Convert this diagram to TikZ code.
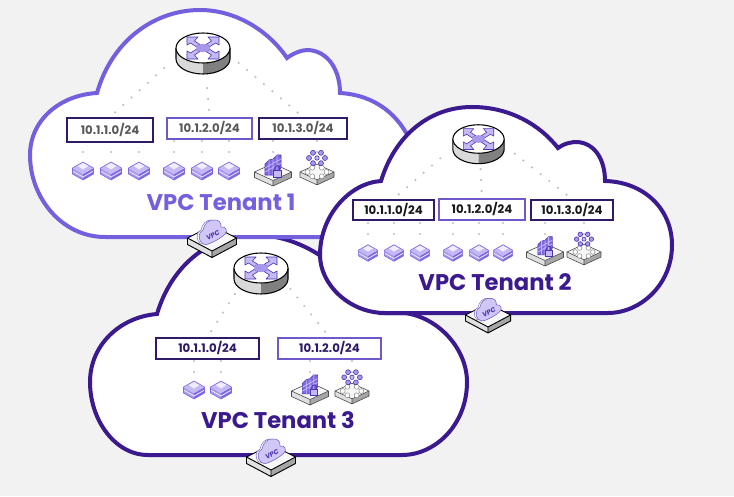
\documentclass[tikz,border=0pt]{standalone}
\usepackage{fontspec}
\setmainfont{Poppins}
\definecolor{bgc}{HTML}{F2F2F2}
\definecolor{lilac}{HTML}{7360DE}
\definecolor{deep}{HTML}{3A1A8E}
\definecolor{deepb}{HTML}{2E1A66}
\definecolor{lightb}{HTML}{6F58C9}
\definecolor{dotc}{HTML}{C0C0C0}
\definecolor{lav}{HTML}{C4B9F5}
\definecolor{lavd}{HTML}{7F68E2}
\definecolor{lavm}{HTML}{A798EC}
\definecolor{lavs}{HTML}{4C35B0}
\tikzset{
  cloudline/.style={fill=white,line width=3pt,line join=miter},
  netbox/.style={draw,fill=white,line width=1.5pt,inner sep=0pt,font=\fontsize{8.8}{10}\selectfont\bfseries,align=center},
  dotline/.style={draw=dotc,line width=1.8pt,line cap=round,dash pattern=on 0pt off 8.25pt},
  title/.style={font=\fontsize{17}{20}\selectfont\bfseries,inner sep=0pt},
  plat/.style={draw=black!70,line width=.45pt,line join=round},
  router/.pic={
    \fill[white!85!black] (-27,0) -- (-27,11) .. controls (-27,19) and (-15,26) .. (0,26) -- (0,0) -- cycle;
    \fill[gray] (27,0) -- (27,11) .. controls (27,19) and (15,26) .. (0,26) -- (0,0) -- cycle;
    \draw[black,line width=.8pt,fill=none] (-27,0) -- (-27,11) .. controls (-27,19) and (-15,26) .. (0,26) .. controls (15,26) and (27,19) .. (27,11) -- (27,0);
    \draw[black,line width=.8pt,fill=white] (-27,0) .. controls (-27,-8.3) and (-15,-15) .. (0,-15) .. controls (15,-15) and (27,-8.3) .. (27,0) .. controls (27,8.3) and (15,15) .. (0,15) .. controls (-15,15) and (-27,8.3) .. (-27,0) -- cycle;
    \foreach \sx/\sy in {1/1,-1/1,1/-1,-1/-1}{
      \draw[lavs,fill=lav,line width=.45pt,line join=round,xscale=\sx,yscale=\sy]
        (5,-11) -- (16,-11) -- (16,-3) -- (12.5,-5) -- (7,-1.5) -- (3,-3.5) -- (8.5,-7) -- cycle;
    }
    \fill[lavm] (0,0) ellipse[x radius=7,y radius=4];
  },
  server/.pic={
    \fill[lavm] (-10.5,-3) -- (0,3) -- (0,9) -- (-10.5,3) -- cycle;
    \fill[lavd] (10.5,-3) -- (0,3) -- (0,9) -- (10.5,3) -- cycle;
    \draw[white!70!lav,line width=.6pt] (-10.5,0) -- (0,6) -- (10.5,0);
    \fill[lav] (0,-9) -- (10.5,-3) -- (0,3) -- (-10.5,-3) -- cycle;
    \fill[white!75!lav] (0,-8) -- (5.5,-5) -- (0,-1.5) -- (-5.5,-5) -- cycle;
    \draw[lavd,line width=.45pt,line join=round] (0,-9) -- (10.5,-3) -- (10.5,3) -- (0,9) -- (-10.5,3) -- (-10.5,-3) -- cycle;
  },
  platform/.pic={
    \fill[white!88!black] (-18.5,0) -- (0,8.5) -- (0,14) -- (-18.5,5.5) -- cycle;
    \fill[gray!70] (18.5,0) -- (0,8.5) -- (0,14) -- (18.5,5.5) -- cycle;
    \draw[plat,fill=white!97!black] (0,-8.5) -- (18.5,0) -- (0,8.5) -- (-18.5,0) -- cycle;
    \draw[plat] (-18.5,0) -- (-18.5,5.5) -- (0,14) -- (18.5,5.5) -- (18.5,0) (0,8.5) -- (0,14);
  },
  firewall/.pic={
    \pic {platform};
    \draw[lavs,fill=lavd,line width=.45pt,line join=round] (-8,3) -- (-8,-8) -- (-4,-12) -- (0,-13) -- (4,-17) -- (8,-17) -- (8,-4) -- (0,3) -- cycle;
    \draw[lav,line width=.6pt] (-8,-4) -- (8,-13) (-8,0) -- (8,-9) (-4,-12) -- (-4,3) (0,-13) -- (0,3) (4,-17) -- (4,-2);
    \draw[lavs,line width=.7pt] (1.5,-2) .. controls (1.5,-8) and (7,-8) .. (7,-2);
    \draw[lavs,fill=lav,line width=.45pt] (0,-2) rectangle (8,5);
  },
  cluster/.pic={
    \pic[scale=.92] {platform};
    \foreach \ang in {0,60,...,300}{
      \draw[black!45,fill=white,line width=.4pt] ({9.5*cos(\ang)},{5*sin(\ang)}) circle[radius=2.5];
    }
    \foreach \ang in {0,60,...,300}{
      \draw[lavs,fill=lavm,line width=.45pt] ({8*cos(\ang)},{-14+6*sin(\ang)}) circle[radius=2.5];
    }
    \draw[lavs,fill=lav,line width=.45pt] (0,-14) circle[radius=2.2];
  },
  gateway/.pic={
    \fill[white!88!black] (-24.5,0) -- (0,13) -- (0,19.5) -- (-24.5,6.5) -- cycle;
    \fill[gray!70] (24.5,0) -- (0,13) -- (0,19.5) -- (24.5,6.5) -- cycle;
    \draw[black,line width=.7pt,fill=white!97!black,line join=round] (0,-12.5) -- (24.5,0) -- (0,13) -- (-24.5,0) -- cycle;
    \draw[black,line width=.7pt,line join=round] (-24.5,0) -- (-24.5,6.5) -- (0,19.5) -- (24.5,6.5) -- (24.5,0) (0,13) -- (0,19.5);
    \draw[lavs!70,fill=white,line width=.4pt] (-12,5) .. controls (-16,2) and (-16,-6) .. (-11,-8) .. controls (-10,-14) and (-5,-19) .. (0,-18) -- (3,-14) -- (-4,6) -- cycle;
    \draw[lavs!80,fill=lav!80!white,line width=.4pt,line join=round] (-10,5) .. controls (-14,2) and (-14,-6) .. (-9,-8) .. controls (-8,-14) and (-3,-19) .. (2,-18) .. controls (6,-19) and (10,-15) .. (9,-11) .. controls (14,-12) and (16,-7) .. (13,-4) .. controls (8,1) and (-2,6) .. (-6,6.5) .. controls (-8,6.5) and (-9,6) .. (-10,5) -- cycle;
    \node[rotate=28,text=lavs,inner sep=0pt,font=\fontsize{5}{5}\selectfont\bfseries\itshape] (vpclabel) at (1,-3) {VPC};
  }
}
\begin{document}
\begin{tikzpicture}[x=.75pt,y=-.75pt]
\useasboundingbox (0,0) rectangle (734,496);
\fill[bgc] (0,0) rectangle (734,496);

% cloud 3
\draw[cloudline,draw=deep] (157,314) .. controls (170,270) and (205,235) .. (255,235) .. controls (300,235) and (345,265) .. (365,305) -- (380,313) -- (405,313) .. controls (440,318) and (467,350) .. (467,382) .. controls (467,425) and (435,455) .. (402,455) -- (148,455) .. controls (115,455) and (90,420) .. (90,382) .. controls (90,345) and (120,317) .. (157,314) -- cycle;
% cloud 1
\draw[cloudline,draw=lilac] (97,93) .. controls (112,40) and (155,10) .. (200,10) .. controls (235,10) and (268,30) .. (287,58) .. controls (295,52) and (303,50) .. (308,50) .. controls (328,51) and (340,70) .. (340,93) .. controls (375,95) and (400,115) .. (412,145) .. controls (420,190) and (380,237) .. (330,237) -- (105,237) .. controls (62,237) and (30,198) .. (30,155) .. controls (30,120) and (60,95) .. (97,93) -- cycle;
% cloud 2
\draw[cloudline,draw=deep] (381,181) .. controls (395,135) and (430,107) .. (472,107) .. controls (510,107) and (540,125) .. (558,148) .. controls (565,143) and (572,142) .. (577,142) .. controls (595,143) and (605,160) .. (605,181) .. controls (645,182) and (672,210) .. (672,245) .. controls (672,285) and (640,313) .. (608,313) -- (385,313) .. controls (350,313) and (320,285) .. (320,255) .. controls (320,215) and (350,183) .. (381,181) -- cycle;

% routers anchors
\coordinate (r1) at (203,33);
\coordinate (r2) at (478.5,125);
\coordinate (r3) at (261,253);

% subnet boxes
\node[netbox,draw=deepb,text=black!65,minimum width=64.5pt,minimum height=18pt] (a1) at (110,130) {10.1.1.0/24};
\node[netbox,draw=lightb,text=black!65,minimum width=63.75pt,minimum height=15.75pt] (a2) at (209.5,128.5) {10.1.2.0/24};
\node[netbox,draw=deepb,text=black!65,minimum width=66pt,minimum height=15.75pt] (a3) at (303,128.5) {10.1.3.0/24};
\node[netbox,draw=deepb,text=black!90,minimum width=60.75pt,minimum height=15pt] (b1) at (393.5,210) {10.1.1.0/24};
\node[netbox,draw=lightb,text=black!90,minimum width=64.5pt,minimum height=15.75pt] (b2) at (482,209.5) {10.1.2.0/24};
\node[netbox,draw=deepb,text=black!90,minimum width=61.5pt,minimum height=15pt] (b3) at (572,210) {10.1.3.0/24};
\node[netbox,draw=deepb,text=deepb,minimum width=77.25pt,minimum height=15.75pt] (c1) at (207.5,348.5) {10.1.1.0/24};
\node[netbox,draw=lightb,text=deepb,minimum width=77.25pt,minimum height=15.75pt] (c2) at (329.5,348.5) {10.1.2.0/24};

% device anchors
\foreach \n/\x in {s11/83,s12/111,s13/139,s14/174,s15/202,s16/229}{\coordinate (\n) at (\x,171);}
\coordinate (f1) at (273,172); \coordinate (k1) at (317,172);
\foreach \n/\x in {s21/368,s22/394,s23/420,s24/453,s25/479,s26/503}{\coordinate (\n) at (\x,253);}
\coordinate (f2) at (545,252); \coordinate (k2) at (584,252);
\foreach \n/\x in {s31/194,s32/221}{\coordinate (\n) at (\x,390);}
\coordinate (f3) at (310,391); \coordinate (k3) at (352,391);

% dotted links: router to subnet
\draw[dotline,shorten <=5.25pt,shorten >=34pt] (a1.north) -- (r1);
\draw[dotline,shorten <=5.25pt,shorten >=34pt] (a2.north) -- (r1);
\draw[dotline,shorten <=5.25pt,shorten >=32pt] (a3.north) -- (r1);
\draw[dotline,shorten <=5.25pt,shorten >=32pt] (b1.north) -- (r2);
\draw[dotline,shorten <=5.25pt,shorten >=32pt] (b2.north) -- (r2);
\draw[dotline,shorten <=5.25pt,shorten >=32pt] (b3.north) -- (r2);
\draw[dotline,shorten <=5.25pt,shorten >=30pt] (c1.north) -- (r3);
\draw[dotline,shorten <=5.25pt,shorten >=30pt] (c2.north) -- (r3);

% dotted links: subnet to device
\foreach \n in {s11,s12,s13}{\draw[dotline,shorten <=6.75pt,shorten >=9pt] (\n |- a1.south) -- (\n);}
\foreach \n in {s14,s15,s16}{\draw[dotline,shorten <=.75pt,shorten >=11pt] (\n |- a2.south) -- (\n);}
\foreach \n in {f1,k1}{\draw[dotline,shorten <=.75pt,shorten >=11pt] (\n |- a3.south) -- (\n);}
\foreach \n in {s21,s22,s23}{\draw[dotline,shorten <=1.5pt,shorten >=11pt] (\n |- b1.south) -- (\n);}
\foreach \n in {s24,s25,s26}{\draw[dotline,shorten <=1.5pt,shorten >=11pt] (\n |- b2.south) -- (\n);}
\foreach \n in {f2,k2}{\draw[dotline,shorten <=1.5pt,shorten >=11pt] (\n |- b3.south) -- (\n);}
\foreach \n in {s31,s32}{\draw[dotline,shorten <=.75pt,shorten >=11pt] (\n |- c1.south) -- (\n);}
\foreach \n in {f3,k3}{\draw[dotline,shorten <=.75pt,shorten >=11pt] (\n |- c2.south) -- (\n);}

% routers
\pic at (203,48) {router};
\pic[scale=.95] at (478.5,139) {router};
\pic at (261,268) {router};

% servers
\foreach \n in {s11,s12,s13,s14,s15,s16,s31,s32}{\pic at (\n) {server};}
\foreach \n in {s21,s22,s23,s24,s25,s26}{\pic[scale=.92] at (\n) {server};}

% firewall and cluster
\pic at (f1) {firewall};
\pic[scale=.9] at (f2) {firewall};
\pic[scale=.95] at (f3) {firewall};
\pic at (k1) {cluster};
\pic[scale=.92] at (k2) {cluster};
\pic[scale=.98] at (k3) {cluster};

% titles
\node[title,text=lilac] (t1) at (221,202) {VPC Tenant 1};
\node[title,text=deep] (t2) at (495,282) {VPC Tenant 2};
\node[title,text=deep] (t3) at (278,420) {VPC Tenant 3};

% gateways
\pic at (212,238) {gateway};
\pic[scale=.92] at (488,315) {gateway};
\pic at (271,457) {gateway};
\end{tikzpicture}
\end{document}
